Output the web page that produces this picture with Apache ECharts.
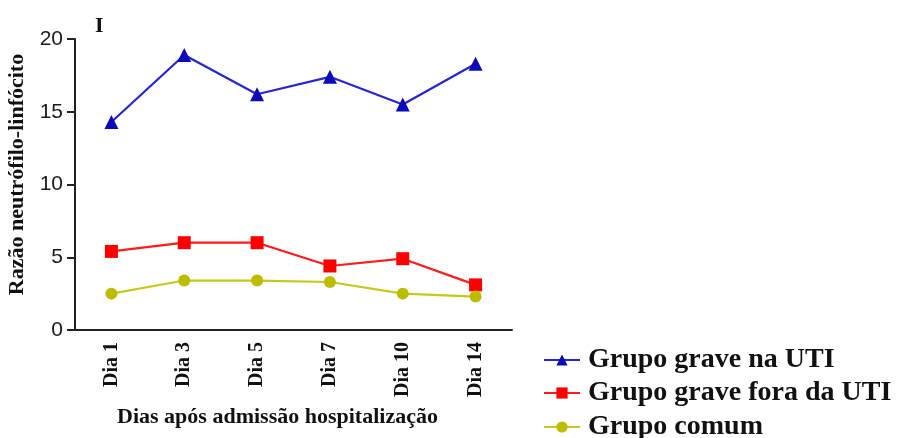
<!DOCTYPE html>
<html>
<head>
<meta charset="utf-8">
<script src="https://cdn.jsdelivr.net/npm/echarts@6/dist/echarts.min.js"></script>
<style>
  html, body { margin: 0; padding: 0; background: #fff; }
  #chart { width: 898px; height: 438px; }
</style>
</head>
<body>
<div id="chart"></div>
<script>
// Neutrophil-to-lymphocyte ratio by day after hospital admission
const days = ['Dia 1', 'Dia 3', 'Dia 5', 'Dia 7', 'Dia 10', 'Dia 14'];
const graveUTI = [14.3, 18.9, 16.2, 17.4, 15.5, 18.3];
const graveForaUTI = [5.4, 6.0, 6.0, 4.4, 4.9, 3.1];
const comum = [2.5, 3.4, 3.4, 3.3, 2.5, 2.3];
const yTicks = [0, 5, 10, 15, 20];
const groupNames = ['Grupo grave na UTI', 'Grupo grave fora da UTI', 'Grupo comum'];

const serif = '"Liberation Serif", "DejaVu Serif", serif';
const sans = '"Liberation Sans", Arial, sans-serif';
const axisColor = '#222';

// one legend block per group, stacked down the lower right corner
const legendTops = [341, 374, 408];
const legends = groupNames.map((n, i) => ({
  orient: 'vertical',
  left: 538, top: legendTops[i],
  itemWidth: 36, itemHeight: 14,
  textStyle: { fontFamily: serif, fontWeight: 'bold', fontSize: 28, color: '#111', padding: [0, 0, 0, 3] },
  data: [n]
}));

const chart = echarts.init(document.getElementById('chart'));
chart.setOption({
  animation: false,
  backgroundColor: '#fff',
  grid: { left: 75, right: 386, top: 39, bottom: 108, containLabel: false },
  graphic: [{
    type: 'text', left: 95, top: 15,
    style: { text: 'I', font: 'bold 22px ' + serif, fill: '#111' }
  }],
  legend: legends,
  xAxis: {
    type: 'category',
    data: days,
    boundaryGap: true,
    name: 'Dias após admissão hospitalização',
    nameLocation: 'middle',
    nameGap: 76,
    nameTextStyle: { fontFamily: serif, fontWeight: 'bold', fontSize: 22, color: '#111', padding: [0, 32, 0, 0] },
    axisLine: { lineStyle: { color: axisColor, width: 2 } },
    axisTick: { alignWithLabel: true, length: 9, lineStyle: { color: axisColor, width: 2 } },
    axisLabel: { rotate: 90, margin: 12, fontFamily: serif, fontWeight: 'bold', fontSize: 20, color: '#111' },
    splitLine: { show: false }
  },
  yAxis: {
    type: 'value',
    min: yTicks[0], max: yTicks[yTicks.length - 1], interval: 5,
    name: 'Razão neutrófilo-linfócito',
    nameLocation: 'middle',
    nameGap: 47,
    nameTextStyle: { fontFamily: serif, fontWeight: 'bold', fontSize: 22, color: '#111', padding: [0, 0, 0, 20] },
    axisLine: { show: true, lineStyle: { color: axisColor, width: 2 } },
    axisTick: { show: true, length: 8, lineStyle: { color: axisColor, width: 2 } },
    axisLabel: { margin: 12, fontFamily: sans, fontSize: 21, color: '#1a1a1a' },
    splitLine: { show: false }
  },
  series: [
    {
      name: groupNames[0], type: 'line', data: graveUTI,
      symbol: 'triangle', symbolSize: 14,
      lineStyle: { color: '#2424d8', width: 2.2 },
      itemStyle: { color: '#0a0ab8' }
    },
    {
      name: groupNames[1], type: 'line', data: graveForaUTI,
      symbol: 'rect', symbolSize: 13,
      lineStyle: { color: '#ff1a1a', width: 2.2 },
      itemStyle: { color: '#ff0000' }
    },
    {
      name: groupNames[2], type: 'line', data: comum,
      symbol: 'circle', symbolSize: 12,
      lineStyle: { color: '#c8c81a', width: 2.2 },
      itemStyle: { color: '#bcbc00' }
    }
  ]
});
</script>
</body>
</html>
